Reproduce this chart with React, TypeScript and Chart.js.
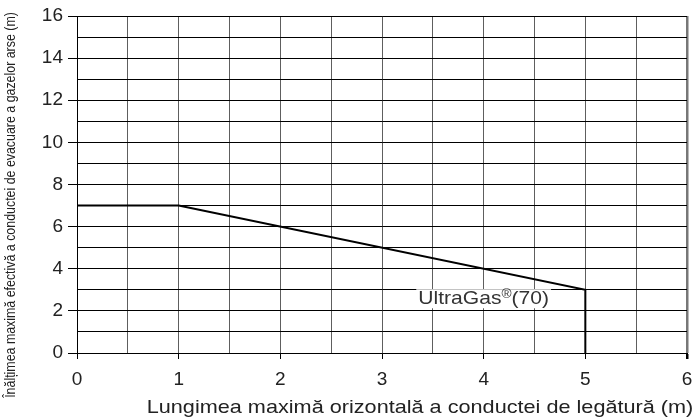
import React, { useEffect, useRef } from "react";
import { Chart, registerables } from "chart.js";

Chart.register(...registerables);

const xValues = [0, 1, 5, 5];
const yValues = [7, 7, 3, 0];
const seriesLabel = "UltraGas®(70)";
const labelAt = { x: 4.0, y: 2.6 };
const xTitle = "Lungimea maximă orizontală a conductei de legătură (m)";
const yTitle = "Înălțimea maximă efectivă a conductei de evacuare a gazelor arse (m)";

const FONT = "'Liberation Sans', Arial, sans-serif";
const STRETCH = 1.14;

const textPlugin = {
  id: "texts",
  afterDatasetsDraw(chart: any) {
    const { ctx, scales } = chart;
    const px = scales.x.getPixelForValue(labelAt.x);
    const py = scales.y.getPixelForValue(labelAt.y);
    ctx.save();
    const [before, after] = seriesLabel.split("®");
    const big = `18.5px ${FONT}`;
    const small = `12px ${FONT}`;
    ctx.font = big;
    const w1 = ctx.measureText(before).width * STRETCH;
    const w3 = ctx.measureText(after).width * STRETCH;
    ctx.font = small;
    const w2 = ctx.measureText("®").width * STRETCH;
    const total = w1 + w2 + w3;
    const x0 = px - total / 2;
    ctx.fillStyle = "#ffffff";
    ctx.fillRect(x0 - 2, py - 9, total + 4, 19);
    ctx.fillStyle = "#333333";
    ctx.textAlign = "left";
    ctx.textBaseline = "middle";
    const drawStretched = (t: string, x: number, y: number, font: string) => {
      ctx.save();
      ctx.font = font;
      ctx.translate(x, y);
      ctx.scale(STRETCH, 1);
      ctx.fillText(t, 0, 0);
      ctx.restore();
    };
    drawStretched(before, x0, py + 1, big);
    drawStretched("®", x0 + w1, py - 4, small);
    drawStretched(after, x0 + w1 + w2, py + 1, big);
    ctx.restore();
  },
  afterDraw(chart: any) {
    const { ctx, chartArea } = chart;
    ctx.save();
    ctx.fillStyle = "#222222";
    ctx.textAlign = "center";
    ctx.textBaseline = "middle";
    ctx.save();
    ctx.font = `19px ${FONT}`;
    ctx.translate(chartArea.left + 343, chartArea.bottom + 55);
    ctx.scale(STRETCH, 1);
    ctx.fillText(xTitle, 0, 0);
    ctx.restore();
    ctx.save();
    ctx.font = `12.4px ${FONT}`;
    ctx.translate(11, 205);
    ctx.rotate(-Math.PI / 2);
    ctx.scale(1, STRETCH);
    ctx.fillText(yTitle, 0, 0);
    ctx.restore();
    ctx.restore();
  },
};

export default function App() {
  const ref = useRef<HTMLCanvasElement>(null);
  useEffect(() => {
    document.body.style.margin = "0";
    const chart = new Chart(ref.current!, {
      type: "scatter",
      data: {
        datasets: [
          {
            data: xValues.map((x, i) => ({ x, y: yValues[i] })),
            showLine: true,
            borderColor: "#000000",
            borderWidth: 2,
            pointRadius: 0,
            tension: 0,
          },
        ],
      },
      options: {
        animation: false,
        responsive: false,
        maintainAspectRatio: false,
        layout: { padding: { top: 16, right: 8, left: 0, bottom: 0 } },
        plugins: { legend: { display: false }, tooltip: { enabled: false } },
        scales: {
          x: {
            type: "linear",
            min: 0,
            max: 6,
            afterFit: (s: any) => {
              s.height = 64;
              s.paddingLeft = 0;
              s.paddingRight = 0;
            },
            ticks: {
              stepSize: 0.5,
              autoSkip: false,
              maxRotation: 0,
              padding: 9,
              color: "#222222",
              font: { family: FONT, size: 19 },
              callback: (v: any) => (Number(v) % 1 === 0 ? String(v) : ""),
            },
            grid: {
              color: (c: any) => (c.tick && c.tick.value === 6 ? "#777777" : "#5e5e5e"),
              lineWidth: (c: any) => (c.tick && c.tick.value === 6 ? 2.5 : 1),
              tickLength: 6,
              tickColor: (c: any) => (c.tick && c.tick.value % 1 === 0 ? "#000000" : "rgba(0,0,0,0)"),
            },
            border: { color: "#000000", width: 1 },
            title: { display: false },
          },
          y: {
            type: "linear",
            min: 0,
            max: 16,
            afterFit: (s: any) => {
              s.width = 77;
              s.paddingTop = 0;
              s.paddingBottom = 0;
            },
            ticks: {
              stepSize: 1,
              autoSkip: false,
              padding: 5,
              color: "#222222",
              font: { family: FONT, size: 19 },
              callback: (v: any) => (Number(v) % 2 === 0 ? String(v) : ""),
            },
            grid: {
              color: "#000000",
              lineWidth: 1,
              tickLength: 9,
              tickColor: (c: any) => (c.tick && c.tick.value % 2 === 0 ? "#000000" : "rgba(0,0,0,0)"),
            },
            border: { color: "#000000", width: 1 },
            title: { display: false },
          },
        },
      },
      plugins: [textPlugin],
    });
    return () => chart.destroy();
  }, []);
  return (
    <div style={{ width: 695, height: 417 }}>
      <canvas ref={ref} width={695} height={417} style={{ width: 695, height: 417, display: "block" }} />
    </div>
  );
}
